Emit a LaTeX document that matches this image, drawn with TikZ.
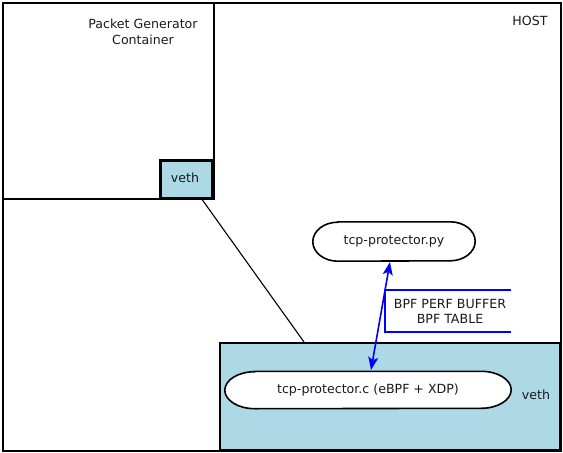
\documentclass[tikz,border=0pt]{standalone}
\usepackage{fontspec}
\setmainfont{DejaVu Sans}
\usetikzlibrary{arrows.meta,calc}
\definecolor{vethblue}{HTML}{ADD8E6}
\tikzset{
  box/.style={draw=black,line width=1.7pt,inner sep=0pt,anchor=north west},
  lbl/.style={font=\fontsize{12.6}{15.5}\selectfont,text=black!90,align=center,inner sep=0pt},
  pillnode/.style={inner sep=0pt},
  pillline/.style={draw=black,line width=1.6pt,fill=white},
  bluel/.style={draw=blue,line width=1.6pt},
  link/.style={draw=black,line width=1.1pt}
}
\begin{document}
\begin{tikzpicture}[x=1pt,y=-1pt]
\useasboundingbox (0,0) rectangle (563,453);
% host
\node[box,minimum width=558pt,minimum height=448pt] (host) at (2,2) {};
\node[lbl] (hostlbl) at (530,21) {HOST};
% container
\node[box,minimum width=211pt,minimum height=196pt] (cont) at (2,2) {};
\node[lbl] (contlbl) at (143,32) {Packet Generator\\Container};
% veth in container
\node[box,fill=vethblue,line width=2.8pt,minimum width=52pt,minimum height=38pt] (veth1) at (159,159) {};
\node[lbl] (veth1lbl) at (185,178) {veth};
% lower veth
\node[box,fill=vethblue,minimum width=340pt,minimum height=107pt] (veth2) at (219,342) {};
\node[lbl] (veth2lbl) at (536,395) {veth};
% pills
\node[pillnode,minimum width=286pt,minimum height=37pt] (xdp) at (368,390) {};
\draw[pillline] ($(xdp.north west)+(30,0)$) -- ($(xdp.north east)+(-30,0)$)
  arc[start angle=90,end angle=-90,x radius=30pt,y radius=18.5pt]
  -- ($(xdp.south west)+(30,0)$)
  arc[start angle=270,end angle=90,x radius=30pt,y radius=18.5pt] -- cycle;
\node[lbl] (xdplbl) at (xdp.center) {tcp-protector.c (eBPF + XDP)};
\node[pillnode,minimum width=162pt,minimum height=39pt] (py) at (394,241.5) {};
\draw[pillline] ($(py.north west)+(25,0)$) -- ($(py.north east)+(-25,0)$)
  arc[start angle=90,end angle=-90,x radius=25pt,y radius=19.5pt]
  -- ($(py.south west)+(25,0)$)
  arc[start angle=270,end angle=90,x radius=25pt,y radius=19.5pt] -- cycle;
\node[lbl] (pylbl) at (py.center) {tcp-protector.py};
% link
\coordinate (la) at (201,198);
\coordinate (lb) at (304,342);
\draw[link] (la) -- (lb);
% bpf arrow
\coordinate (pa) at (390,262);
\coordinate (pb) at (371,370);
\draw[bluel,{Stealth[length=13pt,width=10pt,inset=3pt]}-{Stealth[length=13pt,width=10pt,inset=3pt]}] (pa) -- (pb);
% bracket
\coordinate (b1) at (511,290);
\coordinate (b2) at (385,290);
\coordinate (b3) at (385,332);
\coordinate (b4) at (511,332);
\draw[bluel] (b1) -- (b2) -- (b3) -- (b4);
\node[lbl] (bpflbl) at (450,311.5) {BPF PERF BUFFER\\BPF TABLE};
\end{tikzpicture}
\end{document}
